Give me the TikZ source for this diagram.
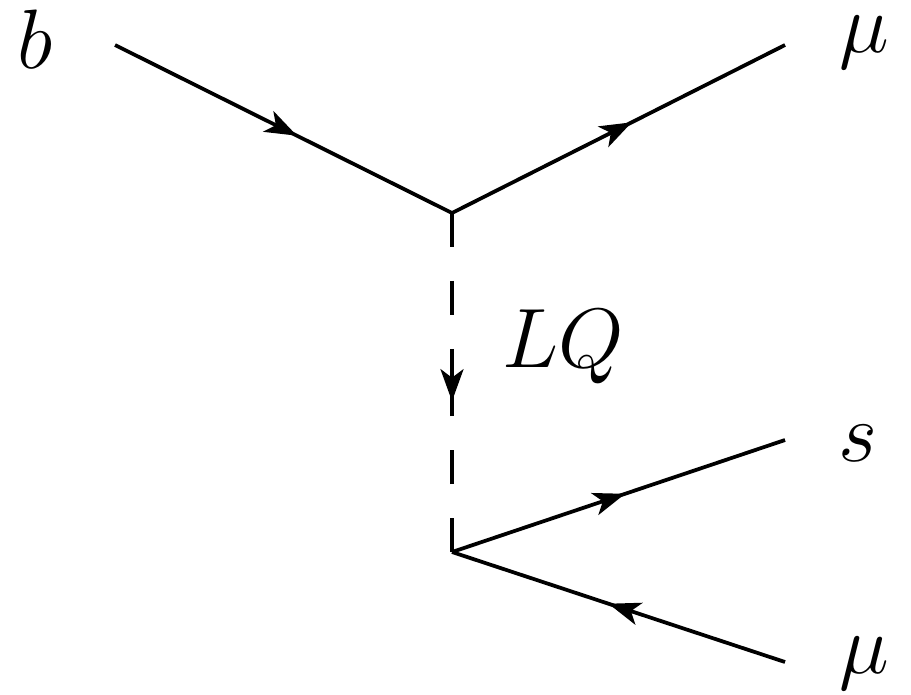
\RequirePackage{fix-cm}
\documentclass[tikz,border=0pt]{standalone}
\usetikzlibrary{arrows.meta,decorations.markings}

\begin{document}
\begin{tikzpicture}[
  x=0.02cm, y=-0.02cm,
  line/.style={line width=0.075cm},
  fermion/.style={line, postaction={decorate}, decoration={markings, mark=at position #1 with {\arrow{Stealth[length=0.64cm, width=0.46cm, inset=0.17cm]}}}},
  fermion/.default=0.54,
  scalar/.style={line, dash pattern=on 0.68cm off 0.68cm},
  lbl/.style={anchor=base, inner sep=0pt, font=\fontsize{48}{58}\selectfont}
]
\useasboundingbox (0,0) rectangle (911,694);

% vertices and external legs
\coordinate (vtop) at (452,213);
\coordinate (vbot) at (452,552);
\coordinate (lqmid) at (452,382.5);
\coordinate (bin) at (115,45);
\coordinate (muout) at (785,45);
\coordinate (sout) at (785,440);
\coordinate (muin) at (785,662);

% labels
\node[lbl] (blbl) at (35,68) {$b$};
\node[lbl] (mutlbl) at (864,52) {$\mu$};
\node[lbl] (lqlbl) at (563,367) {$LQ$};
\node[lbl] (slbl) at (858,461) {$s$};
\node[lbl] (mublbl) at (864,673) {$\mu$};

% fermion lines
\draw[fermion] (bin) -- (vtop);
\draw[fermion] (vtop) -- (muout);
\draw[fermion=0.52] (vbot) -- (sout);
\draw[fermion=0.53] (muin) -- (vbot);

% leptoquark propagator
\draw[scalar] (vtop) -- (lqmid);
\draw[scalar] (vbot) -- (lqmid);
\path[fermion=0.555] (vtop) -- (vbot);

\end{tikzpicture}
\end{document}
